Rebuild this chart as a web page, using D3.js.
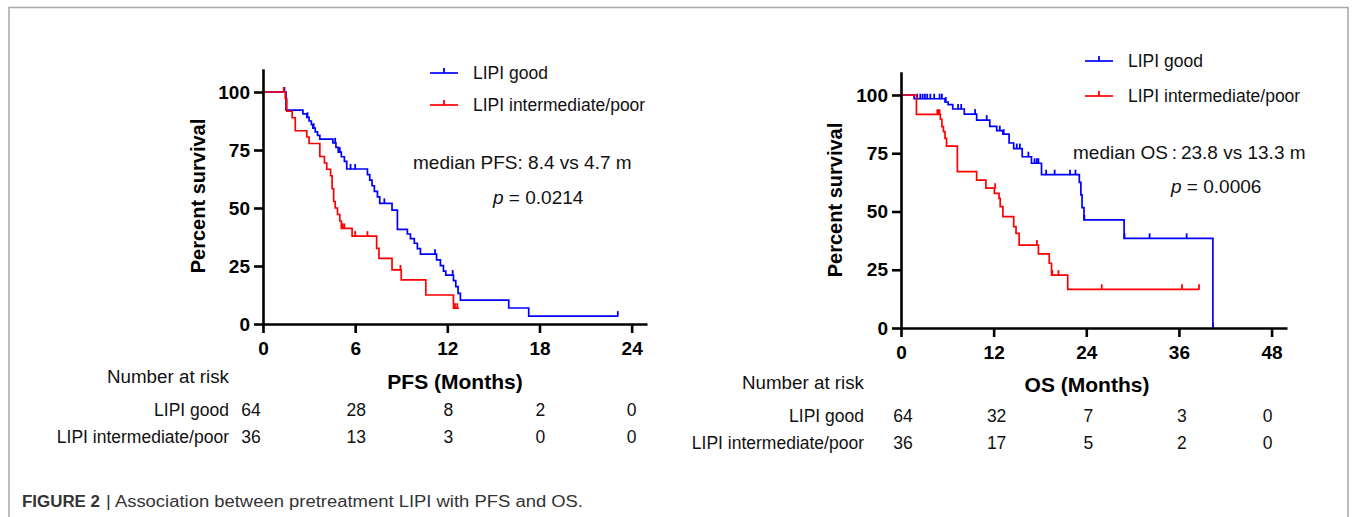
<!DOCTYPE html>
<html><head><meta charset="utf-8">
<script src="https://cdn.jsdelivr.net/npm/d3@7"></script>
<style>
html,body{margin:0;padding:0;background:#fff;}
svg{display:block;font-family:"Liberation Sans",Arial,sans-serif;}
</style></head>
<body>
<svg id="chart" width="1357" height="517"></svg>
<script>
// ---------------- DATA ----------------
const seriesNames = ["LIPI good", "LIPI intermediate/poor"];
const yTicks = [0, 25, 50, 75, 100];
const pfsTicks = [0, 6, 12, 18, 24];
const osTicks = [0, 12, 24, 36, 48];

// PFS – step points [month, percent]
const pfsGood = [[0,100],[1.5,92.2],[2.6,90.6],[2.85,89.1],[3.0,87.5],[3.15,85.9],[3.25,84.4],[3.4,82.8],[3.55,81.3],[3.7,79.7],
  [4.55,78.1],[4.75,76.1],[4.9,74.1],[5.1,72.1],[5.3,70.1],[5.45,66.8],[6.8,64.4],[6.95,62.0],[7.1,59.6],[7.25,57.2],
  [7.45,54.8],[7.6,52.0],[8.4,49.1],[8.75,40.8],[9.4,38.8],[9.6,36.8],[9.85,34.8],[10.05,32.5],[10.25,30.1],[11.3,27.6],
  [11.55,25.2],[11.75,22.8],[11.9,21.1],[12.4,18.7],[12.55,16.1],[12.7,13.2],[12.85,10.3],[16.0,6.9],[17.3,3.4],[23.1,3.4]];
const pfsGoodCensor = [[1.4,100],[2.9,89.1],[3.3,84.4],[4.7,78.1],[5.0,74.1],[5.7,66.8],[6.0,66.8],[7.9,52.0],[11.2,30.1],[12.35,21.1],[23.1,3.4]];
const pfsPoor = [[0,100],[1.45,97.2],[1.55,91.7],[1.9,88.9],[2.1,83.3],[2.85,80.6],[3.0,77.8],[3.7,72.2],[4.0,69.4],[4.15,66.7],
  [4.4,63.9],[4.5,58.3],[4.6,52.8],[4.7,50.0],[4.85,47.2],[5.0,44.4],[5.1,41.2],[5.8,37.9],[7.4,32.6],[7.55,28.3],
  [8.4,23.3],[9.0,19.0],[10.6,12.5],[12.4,6.8],[12.75,6.8]];
const pfsPoorCensor = [[1.35,100],[5.2,41.2],[5.3,41.2],[6.0,37.9],[6.8,37.9],[8.95,23.3],[12.5,6.8],[12.65,6.8]];

// OS – step points [month, percent]
const osGood = [[0,100],[1.7,98.4],[5.7,97.0],[6.1,95.9],[6.7,94.0],[8.2,91.8],[9.8,89.2],[11.5,86.5],[12.4,84.7],[13.2,83.2],
  [14.0,79.4],[14.6,77.0],[15.7,73.5],[16.9,70.7],[18.2,65.8],[23.1,62.5],[23.3,57.1],[23.45,51.7],[23.7,46.4],[28.9,38.5],[40.4,0]];
const osGoodCensor = [[2.1,98.4],[2.5,98.4],[2.8,98.4],[3.1,98.4],[3.4,98.4],[3.8,98.4],[4.3,98.4],[5.0,98.4],[5.3,98.4],[5.8,97.0],
  [7.4,94.0],[7.8,94.0],[9.6,91.8],[11.1,89.2],[12.8,84.7],[13.3,83.2],[15.0,77.0],[15.4,77.0],[16.5,73.5],[17.3,70.7],
  [17.6,70.7],[17.8,70.7],[18.8,65.8],[19.9,65.8],[21.9,65.8],[22.6,65.8],[23.75,46.4],[28.95,38.5],[32.2,38.5],[37.0,38.5],[40.4,0]];
const osPoor = [[0,100],[2.0,91.7],[5.1,89.6],[5.3,86.4],[5.5,84.3],[5.7,81.4],[5.9,78.1],[7.3,67.1],[9.8,63.5],[11.0,60.0],
  [12.1,57.8],[12.7,55.6],[12.85,52.1],[13.2,47.8],[14.6,43.5],[14.9,40.6],[15.3,35.6],[17.8,31.8],[19.2,27.8],[19.5,22.7],
  [21.6,16.6],[38.6,16.6]];
const osPoorCensor = [[4.7,91.7],[4.85,91.7],[5.0,91.7],[12.2,60.0],[17.6,35.6],[19.6,22.7],[20.4,22.7],[26.0,16.6],[36.4,16.6],[38.6,16.6]];

// Number at risk
const riskPfsGood = [64, 28, 8, 2, 0];
const riskPfsPoor = [36, 13, 3, 0, 0];
const riskOsGood = [64, 32, 7, 3, 0];
const riskOsPoor = [36, 17, 5, 2, 0];

const pfsTitle = "PFS (Months)";
const osTitle = "OS (Months)";
const pfsMedian = "median PFS: 8.4 vs 4.7 m";
const osMedian = "median OS\u2009:\u200923.8 vs 13.3 m";
const pfsP = "0.0214";
const osP = "0.0006";
const captionBold = "FIGURE 2";
const captionText = "| Association between pretreatment LIPI with PFS and OS.";

// ---------------- DRAW ----------------
const svg = d3.select("#chart");
const colors = ["#0000ff", "#ff0000"];

// frame
svg.append("path").attr("d", "M9,517V7.5H1348V517").attr("fill","none").attr("stroke","#a8a8a8").attr("stroke-width",1.5);

function panel(cfg) {
  const x = d3.scaleLinear().domain(cfg.xDomain).range(cfg.xRange);
  const y = d3.scaleLinear().domain([0, 110]).range(cfg.yRange);
  const g = svg.append("g");

  const line = d3.line().x(d => x(d[0])).y(d => y(d[1])).curve(d3.curveStepAfter);
  cfg.series.forEach((s, i) => {
    g.append("path").datum(s.steps).attr("d", line).attr("fill","none")
      .attr("stroke", colors[i]).attr("stroke-width", 1.7);
    g.selectAll(null).data(s.censor).enter().append("line")
      .attr("x1", d => x(d[0])).attr("x2", d => x(d[0]))
      .attr("y1", d => y(d[1]) + 0.5).attr("y2", d => y(d[1]) - 5)
      .attr("stroke", colors[i]).attr("stroke-width", 1.8);
  });

  const ax = g.append("g").attr("transform", `translate(0,${y(0)})`)
    .call(d3.axisBottom(x).tickValues(cfg.xTicks).tickSize(9).tickSizeOuter(0).tickPadding(9));
  const ay = g.append("g").attr("transform", `translate(${x(0)},0)`)
    .call(d3.axisLeft(y).tickValues(yTicks).tickSize(9).tickSizeOuter(0).tickPadding(4));
  [ax, ay].forEach(a => {
    a.select(".domain").attr("stroke","#000").attr("stroke-width",2.6);
    a.selectAll(".tick line").attr("stroke","#000").attr("stroke-width",2.6);
    a.selectAll(".tick text").attr("fill","#000").attr("font-size",19).attr("font-weight","bold")
      .attr("font-family",'"Liberation Sans",Arial,sans-serif');
  });

  // y title
  g.append("text").attr("transform", `translate(${cfg.yTitleX},${cfg.yTitleY}) rotate(-90)`)
    .attr("text-anchor","middle").attr("font-size",20).attr("font-weight","bold").text("Percent survival");
  // x title
  g.append("text").attr("x", cfg.xTitleX).attr("y", cfg.xTitleY).attr("text-anchor","middle")
    .attr("font-size",21).attr("font-weight","bold").text(cfg.xTitle);

  // legend
  cfg.legendY.forEach((ly, i) => {
    g.append("line").attr("x1", cfg.legendX).attr("x2", cfg.legendX + 28).attr("y1", ly).attr("y2", ly)
      .attr("stroke", colors[i]).attr("stroke-width", 1.7);
    g.append("line").attr("x1", cfg.legendX + 14).attr("x2", cfg.legendX + 14).attr("y1", ly).attr("y2", ly - 5)
      .attr("stroke", colors[i]).attr("stroke-width", 1.8);
    g.append("text").attr("x", cfg.legendX + 43).attr("y", ly + 6).attr("font-size",17.5).attr("fill","#111")
      .text(seriesNames[i]);
  });

  // annotations
  g.append("text").attr("x", cfg.medX).attr("y", cfg.medY).attr("font-size",19).attr("fill","#111").text(cfg.median);
  const pt = g.append("text").attr("x", cfg.pX).attr("y", cfg.pY).attr("font-size",19).attr("fill","#111");
  pt.append("tspan").attr("font-style","italic").text("p");
  pt.append("tspan").text(" = " + cfg.p);

  // number at risk
  g.append("text").attr("x", cfg.tableRight).attr("y", cfg.tableY[0]).attr("text-anchor","end")
    .attr("font-size",18).attr("fill","#111").attr("textLength",122).attr("lengthAdjust","spacingAndGlyphs")
    .text("Number at risk");
  cfg.risk.forEach((r, i) => {
    g.append("text").attr("x", cfg.tableRight).attr("y", cfg.tableY[i+1]).attr("text-anchor","end")
      .attr("font-size",17.5).attr("fill","#111").text(seriesNames[i]);
    g.selectAll(null).data(r).enter().append("text")
      .attr("x", (d, j) => x(cfg.xTicks[j]) + cfg.riskShift[j]).attr("y", cfg.tableY[i+1])
      .attr("text-anchor","middle").attr("font-size",17.5).attr("fill","#111").text(d => d);
  });
}

panel({
  xDomain:[0,25], xRange:[263,647], yRange:[324,68.8], xTicks:pfsTicks,
  series:[{steps:pfsGood, censor:pfsGoodCensor},{steps:pfsPoor, censor:pfsPoorCensor}],
  yTitleX:205, yTitleY:196, xTitleX:455, xTitleY:389, xTitle:pfsTitle,
  legendX:430, legendY:[73,105],
  median:pfsMedian, medX:413, medY:169, p:pfsP, pX:493, pY:204,
  tableRight:229, tableY:[383,416,443], risk:[riskPfsGood, riskPfsPoor], riskShift:[-12,1,1,1,0]
});
panel({
  xDomain:[0,50], xRange:[901,1287], yRange:[328,71.7], xTicks:osTicks,
  series:[{steps:osGood, censor:osGoodCensor},{steps:osPoor, censor:osPoorCensor}],
  yTitleX:842, yTitleY:200, xTitleX:1087, xTitleY:392, xTitle:osTitle,
  legendX:1085, legendY:[61,96],
  median:osMedian, medX:1073, medY:159, p:osP, pX:1171, pY:193,
  tableRight:864, tableY:[389,422,449], risk:[riskOsGood, riskOsPoor], riskShift:[2,3,2,3,-4]
});

// caption
svg.append("text").attr("x",22).attr("y",507).attr("font-size",16).attr("font-weight","bold")
  .attr("fill","#333").attr("textLength", 78).attr("lengthAdjust","spacingAndGlyphs").text(captionBold);
svg.append("text").attr("x",106).attr("y",507).attr("font-size",16).attr("fill","#333")
  .attr("textLength", 477).attr("lengthAdjust","spacingAndGlyphs").text(captionText);
</script>
</body></html>
